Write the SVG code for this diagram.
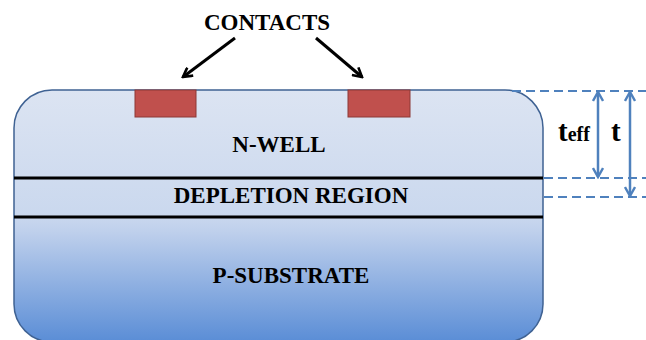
<svg xmlns="http://www.w3.org/2000/svg" width="646" height="340" viewBox="0 0 646 340">
<defs>
<linearGradient id="body" x1="0" y1="90" x2="0" y2="342" gradientUnits="userSpaceOnUse">
<stop offset="0" stop-color="#dce4f2"/>
<stop offset="0.5" stop-color="#cad8ee"/>
<stop offset="0.56" stop-color="#bfd0ec"/>
<stop offset="1" stop-color="#5a8dd6"/>
</linearGradient>
<marker id="blk" viewBox="0 0 12 12" refX="10" refY="6" markerWidth="12" markerHeight="12" markerUnits="userSpaceOnUse" orient="auto">
<path d="M1,1 L10,6 L1,11" fill="none" stroke="#000" stroke-width="2.6"/>
</marker>
<marker id="blu" viewBox="0 0 12 12" refX="10" refY="6" markerWidth="12" markerHeight="12" markerUnits="userSpaceOnUse" orient="auto-start-reverse">
<path d="M1,1 L10,6 L1,11" fill="none" stroke="#4f81bd" stroke-width="2.4"/>
</marker>
</defs>
<style>
.lbl{font-family:"Liberation Serif","Times New Roman",serif;font-weight:bold;font-size:23px;fill:#000;text-anchor:middle}
.sym{font-family:"Liberation Serif","Times New Roman",serif;font-weight:bold;font-size:29px;fill:#000}
.dash{stroke:#4f81bd;stroke-width:2;stroke-dasharray:9,5;fill:none}
.dim{stroke:#4f81bd;stroke-width:2.5;fill:none;marker-start:url(#blu);marker-end:url(#blu)}
.contact{fill:#c0504d;stroke:#8c3836;stroke-width:1}
.sep{stroke:#000;stroke-width:3}
</style>
<g id="body-shape">
<rect x="14" y="90" width="529" height="252" rx="38" ry="38" fill="url(#body)" stroke="#3f6293" stroke-width="1.5"/>
</g>
<g id="contact-left"><rect class="contact" x="135" y="90" width="61" height="27"/></g>
<g id="contact-right"><rect class="contact" x="348" y="90" width="62" height="27"/></g>
<g id="layers">
<line class="sep" x1="14" y1="178" x2="543" y2="178"/>
<line class="sep" x1="14" y1="217" x2="543" y2="217"/>
</g>
<g id="labels">
<text class="lbl" x="267" y="30">CONTACTS</text>
<text class="lbl" x="279" y="152">N-WELL</text>
<text class="lbl" x="291" y="203">DEPLETION REGION</text>
<text class="lbl" x="291" y="283">P-SUBSTRATE</text>
<text class="sym" x="558" y="141">t<tspan font-size="20">eff</tspan></text>
<text class="sym" x="611" y="141">t</text>
</g>
<g id="connectors">
<line x1="235" y1="38" x2="183" y2="77" stroke="#000" stroke-width="3" marker-end="url(#blk)"/>
<line x1="316" y1="38" x2="362" y2="77" stroke="#000" stroke-width="3" marker-end="url(#blk)"/>
<line class="dash" x1="512" y1="91" x2="646" y2="91"/>
<line class="dash" x1="544" y1="178" x2="646" y2="178"/>
<line class="dash" x1="544" y1="197" x2="646" y2="197"/>
<line class="dim" x1="598" y1="92" x2="598" y2="177"/>
<line class="dim" x1="630" y1="92" x2="630" y2="196"/>
</g>
</svg>
